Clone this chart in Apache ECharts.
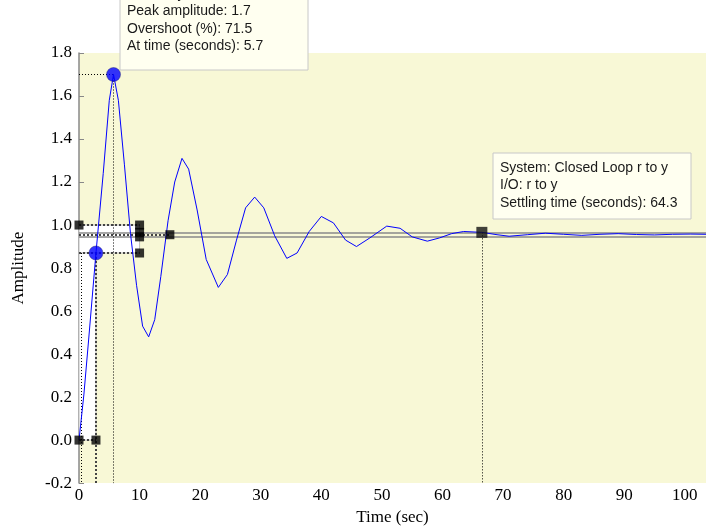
<!DOCTYPE html>
<html>
<head>
<meta charset="utf-8">
<script src="https://cdn.jsdelivr.net/npm/echarts@6/dist/echarts.min.js"></script>
<style>
  html, body { margin: 0; padding: 0; background: #fff; }
  #chart { width: 706px; height: 531px; }
  #log { position: absolute; top: 300px; left: 250px; font-size: 11px; margin: 0; }
</style>
</head>
<body>
<div id="chart"></div>
<pre id="log"></pre>
<script>
// step response r -> y
const timeSec = [0, 0.8, 1.6, 2.8, 4.0, 5.0, 5.7, 6.5, 7.5, 8.5, 9.5, 10.5, 11.5, 12.5, 13.5,
  14.7, 15.8, 17.0, 18.1, 19.5, 21.0, 23.0, 24.5, 26.0, 27.5, 29.0, 30.5, 32.3, 34.3, 36.0,
  38.0, 40.0, 42.0, 44.0, 45.8, 48.0, 50.8, 53.0, 55.0, 57.5, 59.5, 61.5, 63.5, 66.5, 69.0,
  71.0, 74.0, 77.0, 80.0, 83.0, 86.0, 89.0, 92.0, 95.0, 98.0, 101.0, 103.5];
const amplitude = [0, 0.21, 0.47, 0.87, 1.24, 1.58, 1.70, 1.58, 1.28, 0.96, 0.72, 0.53, 0.48, 0.56, 0.76,
  1.02, 1.20, 1.31, 1.26, 1.07, 0.84, 0.71, 0.77, 0.93, 1.08, 1.13, 1.08, 0.95, 0.845, 0.87,
  0.97, 1.04, 1.01, 0.93, 0.90, 0.94, 0.995, 0.985, 0.945, 0.925, 0.94, 0.96, 0.97, 0.966, 0.955,
  0.948, 0.955, 0.962, 0.957, 0.952, 0.957, 0.96, 0.956, 0.954, 0.957, 0.958, 0.957];

// characteristics
const peakPoint = [5.7, 1.7];
const risePoint = [2.8, 0.87];
const riseStartTime = 0.45;
const riseBoxEnd = 10;
const steadyEnd = 15;
const settlingTime = 66.5;
const bandHigh = 0.966;
const bandMid = 0.955;
const bandLow = 0.945;

const xRange = [0, 103.5];
const yRange = [-0.2, 1.8];

const peakText = ['I/O: r to y', 'Peak amplitude: 1.7', 'Overshoot (%): 71.5', 'At time (seconds): 5.7'];
const settleText = ['System: Closed Loop r to y', 'I/O: r to y', 'Settling time (seconds): 64.3'];

// white boxes of the rise-time marker: [x0, y0, x1, y1]
const whiteBoxes = [
  [0, 0.87, 10, 1.0],
  [0, 0, 2.8, 0.87]
];

const serif = '"Liberation Serif", "Times New Roman", serif';
const sans = '"Liberation Sans", Arial, sans-serif';

const log = document.getElementById('log');
let boxCalls = 0;
const chart = echarts.init(document.getElementById('chart'));

const dotBlack = { type: [1, 2], color: '#000', width: 1 };
const dotThick = { type: [2, 2], color: '#444', width: 2 };
const bandLine = { type: 'solid', color: '#8a8a8a', width: 1.5 };

function seg(a, b, style) {
  return [{ coord: a, lineStyle: style }, { coord: b }];
}

const squares = [
  [0, 1.0], [riseBoxEnd, 1.0], [riseBoxEnd, risePoint[1]], [0, 0], [risePoint[0], 0],
  [riseBoxEnd, bandHigh], [riseBoxEnd, bandLow], [steadyEnd, bandMid]
];

function boxGraphic(x, y, w, h, lines, firstY) {
  const els = [{
    type: 'rect', shape: { x: x, y: y, width: w, height: h },
    style: { fill: '#fffff0', stroke: '#c8c8c8', lineWidth: 1 }, z: 20
  }];
  lines.forEach(function (t, i) {
    els.push({
      type: 'text', x: x + 7, y: firstY + i * 17.5, z: 21,
      style: { text: t, font: '14px ' + sans, fill: '#1a1a1a', verticalAlign: 'middle' }
    });
  });
  return els;
}

const option = {
  animation: false,
  grid: {
    left: 79, right: 0, top: 53, bottom: 44,
    show: true, backgroundColor: '#f8f8d6', borderWidth: 0
  },
  xAxis: {
    type: 'value', min: xRange[0], max: xRange[1], interval: 10,
    name: 'Time (sec)', nameLocation: 'middle', nameGap: 24,
    nameTextStyle: { fontFamily: serif, fontSize: 17, color: '#000' },
    axisLine: { show: false }, axisTick: { show: false }, splitLine: { show: false },
    axisLabel: { fontFamily: serif, fontSize: 17, color: '#000', margin: 4, showMaxLabel: false }
  },
  yAxis: {
    type: 'value', min: yRange[0], max: yRange[1], interval: 0.2,
    name: 'Amplitude', nameLocation: 'middle', nameGap: 52,
    nameTextStyle: { fontFamily: serif, fontSize: 17, color: '#000' },
    axisLine: { show: true, lineStyle: { color: '#888', width: 1.5 } },
    axisTick: { show: true, inside: true, length: 5, lineStyle: { color: '#888' } },
    splitLine: { show: false },
    axisLabel: {
      fontFamily: serif, fontSize: 17, color: '#000', margin: 7,
      formatter: function (v) { return v.toFixed(1); }
    }
  },
  series: [
    {
      type: 'custom', z: 5,
      data: whiteBoxes,
      renderItem: function (params, api) {
        boxCalls++;
        const p0 = api.coord([api.value(0), api.value(1)]);
        const p1 = api.coord([api.value(2), api.value(3)]);
        return {
          type: 'rect',
          shape: { x: p0[0], y: p1[1], width: p1[0] - p0[0], height: p0[1] - p1[1] },
          style: { fill: '#ffffff', stroke: '#bdbdbd', lineWidth: 1 }
        };
      }
    },
    {
      type: 'line', z: 7,
      data: timeSec.map(function (t, i) { return [t, amplitude[i]]; }),
      showSymbol: false, symbol: 'none',
      lineStyle: { color: '#0000ff', width: 1 },
      markLine: {
        silent: true, z: 6, symbol: 'none', label: { show: false },
        data: [
          seg([xRange[0], bandHigh], [xRange[1], bandHigh], bandLine),
          seg([xRange[0], bandLow], [xRange[1], bandLow], bandLine),
          seg([0, bandMid], [steadyEnd, bandMid], dotThick),
          seg([0, peakPoint[1]], peakPoint, dotBlack),
          seg(peakPoint, [peakPoint[0], yRange[0]], dotBlack),
          seg([0, 1.0], [riseBoxEnd, 1.0], dotThick),
          seg([0, risePoint[1]], [riseBoxEnd, risePoint[1]], dotThick),
          seg([0, 0], [risePoint[0], 0], dotThick),
          seg([riseStartTime, risePoint[1]], [riseStartTime, yRange[0]], dotBlack),
          seg(risePoint, [risePoint[0], yRange[0]], dotThick),
          seg([settlingTime, bandHigh], [settlingTime, yRange[0]], dotBlack)
        ]
      }
    },
    {
      type: 'scatter', z: 8, silent: true,
      symbol: 'rect', symbolSize: 9,
      itemStyle: { color: '#000' },
      data: squares
    },
    {
      type: 'scatter', z: 8, silent: true,
      symbol: 'rect', symbolSize: 11,
      itemStyle: { color: '#111' },
      data: [[settlingTime, bandHigh]]
    },
    {
      type: 'scatter', z: 9, silent: true,
      symbol: 'circle', symbolSize: 14,
      itemStyle: { color: '#0000ff', borderColor: '#1a1a60', borderWidth: 0.5 },
      data: [peakPoint, risePoint]
    }
  ],
  graphic: boxGraphic(120, -10, 188, 80, peakText, -6)
    .concat(boxGraphic(493, 153, 198, 66, settleText, 168))
};

try {
  chart.setOption(option);
} catch (e) {
  log.textContent = 'ERR ' + e.message;
}
if (boxCalls === 0) log.textContent += ' renderItem not called';
</script>
</body>
</html>
